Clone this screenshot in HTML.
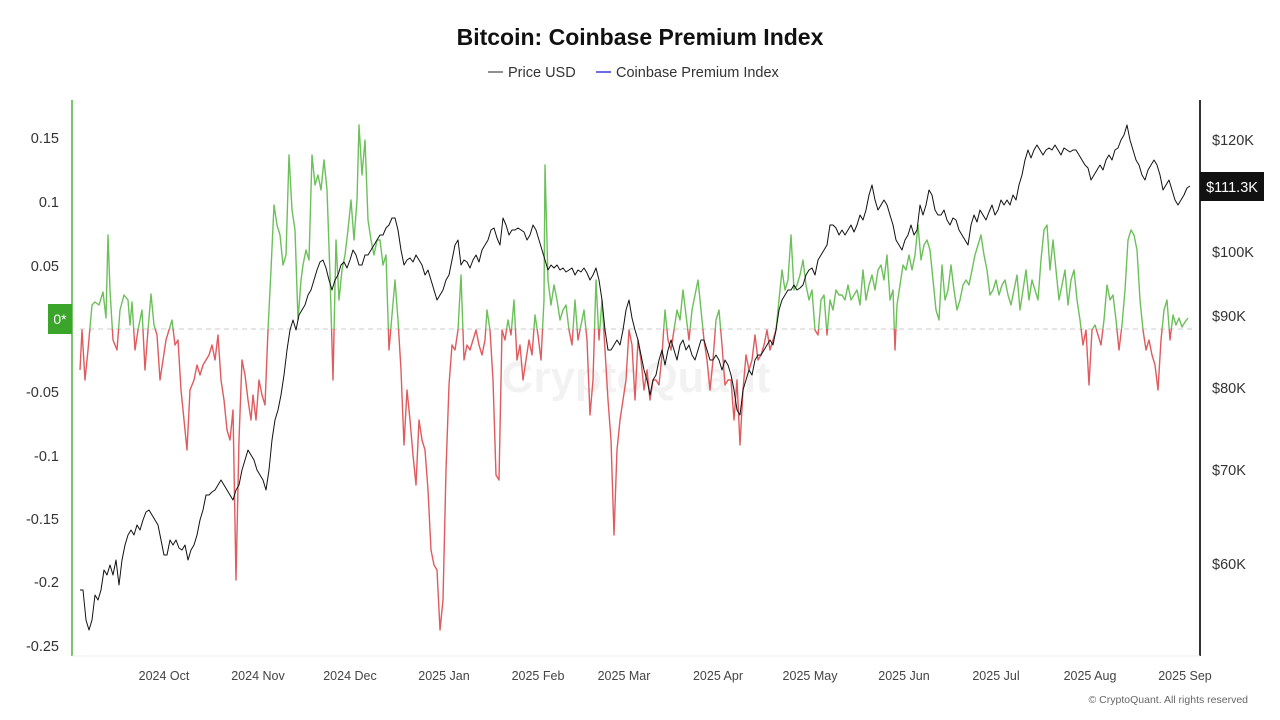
<!DOCTYPE html>
<html><head><meta charset="utf-8"><style>
html,body{margin:0;padding:0;background:#fff;width:1280px;height:720px;overflow:hidden;font-family:"Liberation Sans",sans-serif}
</style></head><body>
<svg width="1280" height="720" xmlns="http://www.w3.org/2000/svg" font-family="Liberation Sans, sans-serif">
<text x="640" y="45" text-anchor="middle" font-size="23" font-weight="bold" fill="#111">Bitcoin: Coinbase Premium Index</text>
<line x1="488" y1="72" x2="503" y2="72" stroke="#222" stroke-width="1"/>
<text x="508" y="77" font-size="14.5" fill="#333">Price USD</text>
<line x1="596" y1="72" x2="611" y2="72" stroke="#3b3bd6" stroke-width="1.5"/>
<text x="616" y="77" font-size="14.5" fill="#333">Coinbase Premium Index</text>
<line x1="72" y1="100" x2="72" y2="656" stroke="#7bc46c" stroke-width="2"/>
<line x1="1200" y1="100" x2="1200" y2="656" stroke="#333" stroke-width="2"/>
<line x1="72" y1="656" x2="1200" y2="656" stroke="#eee" stroke-width="1"/>
<g font-size="14.5" fill="#333" text-anchor="end">
<text x="59" y="143">0.15</text><text x="59" y="207">0.1</text><text x="59" y="271">0.05</text>
<text x="59" y="397">-0.05</text><text x="59" y="461">-0.1</text><text x="59" y="524">-0.15</text>
<text x="59" y="587">-0.2</text><text x="59" y="651">-0.25</text></g>
<rect x="48" y="304" width="24" height="30" fill="#3aa52a"/>
<text x="60" y="324" font-size="14" fill="#fff" text-anchor="middle">0*</text>
<g font-size="14.5" fill="#333">
<text x="1212" y="145">$120K</text><text x="1212" y="257">$100K</text><text x="1212" y="321">$90K</text>
<text x="1212" y="393">$80K</text><text x="1212" y="475">$70K</text><text x="1212" y="569">$60K</text></g>
<rect x="1200" y="172" width="64" height="29" fill="#111"/>
<text x="1232" y="192" font-size="14.5" fill="#fff" text-anchor="middle">$111.3K</text>
<g font-size="12.5" fill="#444" text-anchor="middle">
<text x="164" y="680">2024 Oct</text><text x="258" y="680">2024 Nov</text><text x="350" y="680">2024 Dec</text>
<text x="444" y="680">2025 Jan</text><text x="538" y="680">2025 Feb</text><text x="624" y="680">2025 Mar</text>
<text x="718" y="680">2025 Apr</text><text x="810" y="680">2025 May</text><text x="904" y="680">2025 Jun</text>
<text x="996" y="680">2025 Jul</text><text x="1090" y="680">2025 Aug</text><text x="1185" y="680">2025 Sep</text></g>
<text x="1248" y="703" font-size="10.5" fill="#666" text-anchor="end">© CryptoQuant. All rights reserved</text>
<text x="636" y="392" font-size="44" fill="#000" fill-opacity="0.05" text-anchor="middle" font-weight="bold">CryptoQuant</text>
<line x1="80" y1="329" x2="1195" y2="329" stroke="#ccc" stroke-dasharray="5,4" stroke-width="1"/>
<defs>
<clipPath id="up"><rect x="0" y="0" width="1280" height="329"/></clipPath>
<clipPath id="dn"><rect x="0" y="329" width="1280" height="400"/></clipPath>
<polyline id="prem" fill="none" stroke-width="1.4" stroke-linejoin="round" points="80,370 82,330 85,380 88,350 92,305 95,302 99,305 103,292 106,318 108,235 110,290 113,340 117,350 120,310 124,295 128,300 130,325 132,302 135,350 138,330 142,310 145,370 148,330 151,294 154,325 157,335 160,380 163,360 166,340 169,330 172,320 175,345 178,340 181,390 184,420 187,450 190,390 194,380 197,365 200,375 203,365 206,360 209,355 212,345 215,360 218,335 221,380 224,400 227,430 230,440 233,410 236,580 239,440 242,360 245,375 248,400 251,420 253,395 256,420 259,380 262,395 265,405 268,330 271,270 274,205 277,225 280,235 283,265 286,255 289,155 292,210 295,230 298,320 301,280 303,265 306,250 309,260 312,155 315,185 318,175 321,190 324,160 327,190 330,275 333,380 336,240 339,300 342,270 345,255 348,230 351,200 354,240 357,200 359,125 362,175 365,140 368,220 371,240 374,255 377,240 380,240 383,265 386,255 389,350 392,315 395,280 398,320 401,370 404,445 407,390 410,420 413,455 416,485 419,420 422,440 425,450 428,490 431,550 434,565 437,570 440,630 443,600 446,470 449,385 452,345 455,350 458,330 461,275 464,360 467,345 470,350 473,340 476,330 479,345 482,355 485,340 487,310 490,330 493,380 496,475 499,480 502,330 505,340 508,320 511,335 514,300 517,360 520,345 523,380 526,360 529,340 532,355 535,315 538,335 541,360 544,300 545,165 548,280 551,305 554,285 557,300 560,320 563,310 566,305 569,330 572,345 575,300 578,340 581,325 584,310 587,340 590,415 593,380 596,280 599,340 602,300 605,350 608,400 611,440 614,535 617,450 620,420 623,400 626,380 629,330 632,345 635,400 638,340 641,360 644,390 647,370 650,400 653,380 656,380 659,385 662,355 665,310 668,340 671,350 674,330 677,310 680,320 683,290 686,315 689,340 692,310 695,295 698,280 701,310 704,340 707,360 710,390 713,360 716,320 719,310 722,345 725,385 728,380 731,380 734,420 737,380 740,445 743,390 746,355 749,370 752,360 755,335 758,360 761,355 764,345 767,330 770,350 773,340 776,330 779,300 782,270 785,290 788,280 791,235 794,290 797,285 800,275 803,260 806,285 809,300 812,290 815,330 818,335 821,300 824,295 827,335 830,300 833,310 836,290 839,295 842,295 845,300 848,285 851,300 854,295 857,290 860,305 863,270 866,300 869,285 872,275 875,290 878,270 881,265 884,280 887,255 890,300 893,290 895,350 897,305 900,285 903,265 906,270 909,255 912,270 915,255 918,225 921,260 924,245 927,240 930,250 933,280 936,310 939,320 942,265 945,300 948,290 951,265 954,290 957,310 960,300 963,285 966,280 969,285 972,270 975,255 978,245 981,235 984,255 987,270 990,295 993,290 996,280 999,295 1002,285 1005,280 1008,295 1011,305 1014,290 1017,275 1020,310 1023,290 1026,270 1029,300 1032,280 1035,290 1038,300 1041,260 1044,230 1047,225 1050,270 1053,240 1056,270 1059,300 1062,285 1065,270 1068,305 1071,280 1074,270 1077,300 1080,320 1083,345 1086,330 1089,385 1092,330 1095,325 1098,335 1101,345 1104,320 1107,285 1110,300 1113,295 1116,320 1119,350 1122,325 1125,290 1128,240 1131,230 1134,235 1137,250 1140,300 1143,330 1146,350 1149,340 1152,355 1155,365 1158,390 1161,340 1164,310 1167,300 1170,340 1173,315 1176,325 1179,318 1182,327 1185,322 1188,318"/>
</defs>
<use href="#prem" stroke="#6cc05a" clip-path="url(#up)"/>
<use href="#prem" stroke="#e05a5e" clip-path="url(#dn)"/>
<polyline fill="none" stroke="#111" stroke-width="1" stroke-linejoin="round" points="80,590 83,590 86,620 89,630 92,620 95,595 98,600 101,590 104,570 107,575 110,565 113,575 116,560 119,585 122,560 125,545 128,535 131,530 134,535 137,525 140,530 143,520 146,512 149,510 152,515 155,520 158,525 161,540 164,555 167,555 170,540 173,545 176,540 179,548 182,550 185,545 188,560 191,550 194,545 197,535 200,520 203,510 206,495 209,495 212,492 215,490 218,485 221,480 224,485 227,490 230,495 233,500 236,490 239,485 242,470 245,460 248,450 251,455 254,460 257,470 260,475 263,480 266,490 269,470 272,440 275,420 278,410 281,395 284,375 287,350 290,330 293,320 296,330 299,315 302,310 305,305 308,295 311,290 314,280 317,270 320,262 323,260 326,268 329,280 332,290 335,280 338,275 341,265 344,262 347,268 350,260 353,250 356,255 359,265 362,265 365,255 368,255 371,250 374,245 377,240 380,235 383,235 386,228 389,225 392,218 395,218 398,230 401,250 404,265 407,260 410,258 413,262 416,255 419,260 422,265 425,275 428,270 431,280 434,290 437,300 440,295 443,290 446,280 449,275 452,260 455,245 458,240 461,265 464,260 467,262 470,268 473,260 476,255 479,262 482,250 485,245 488,240 491,230 494,228 497,238 500,245 503,218 506,225 509,235 512,230 515,230 518,228 521,230 524,232 527,240 530,235 533,225 536,230 539,240 542,250 545,260 548,270 551,265 554,268 557,265 560,270 563,268 566,272 569,270 572,268 575,275 578,270 581,272 584,268 587,273 590,280 593,275 596,268 599,280 602,300 605,330 608,350 611,350 614,345 617,340 620,345 623,330 626,310 629,300 632,318 635,330 638,340 641,355 644,370 647,380 650,395 653,380 656,375 659,360 662,350 665,365 668,350 671,340 674,350 677,360 680,345 683,340 686,350 689,345 692,355 695,360 698,350 701,340 704,340 707,350 710,360 713,360 716,355 719,360 722,370 725,360 728,365 731,375 734,390 737,410 740,415 743,390 746,380 749,370 752,375 755,360 758,355 761,355 764,350 767,345 770,340 773,345 776,330 779,310 782,300 785,295 788,290 791,290 794,285 797,290 800,288 803,285 806,275 809,270 812,268 815,275 818,260 821,255 824,250 827,245 830,225 833,225 836,228 839,235 842,230 845,235 848,230 851,225 854,232 857,225 860,215 863,220 866,210 869,195 872,185 875,200 878,210 881,205 884,200 887,205 890,215 893,225 896,240 899,245 902,250 905,240 908,235 911,225 914,235 917,230 920,205 923,215 926,205 929,190 932,195 935,210 938,215 941,215 944,210 947,220 950,225 953,218 956,220 959,230 962,235 965,240 968,245 971,225 974,215 977,222 980,210 983,215 986,220 989,212 992,205 995,215 998,210 1001,200 1004,205 1007,200 1010,205 1013,195 1016,200 1019,185 1022,175 1025,160 1028,150 1031,158 1034,150 1037,145 1040,150 1043,155 1046,150 1049,148 1052,150 1055,145 1058,150 1061,155 1064,148 1067,150 1070,152 1073,150 1076,150 1079,155 1082,160 1085,165 1088,168 1091,180 1094,175 1097,170 1100,165 1103,170 1106,160 1109,155 1112,160 1115,150 1118,148 1121,140 1124,135 1127,125 1130,140 1133,150 1136,160 1139,165 1142,175 1145,180 1148,170 1151,165 1154,160 1157,165 1160,175 1163,190 1166,185 1169,180 1172,190 1175,200 1178,205 1181,200 1184,195 1187,188 1190,186"/>
</svg>
</body></html>
